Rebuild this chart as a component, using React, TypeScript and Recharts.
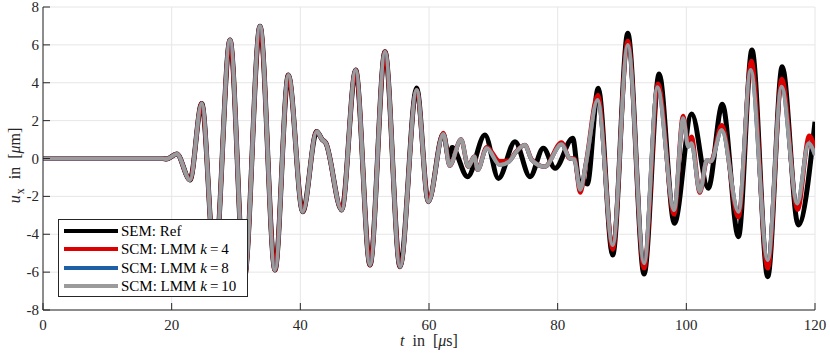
import React from 'react';
import { LineChart, Line, XAxis, YAxis, CartesianGrid, Legend, Label } from 'recharts';

// ---- tick labels ----
const xTicks = [0, 20, 40, 60, 80, 100, 120];
const yTicks = [-8, -6, -4, -2, 0, 2, 4, 6, 8];

// ---- series names ----
const seriesNames = ['SEM: Ref', 'SCM: LMM k=4', 'SCM: LMM k=8', 'SCM: LMM k=10'];

// ---- shared part of all series (t in µs, u_x in µm) ----
const sharedT = [0, 18.6, 19.2, 20.8, 22.85, 24.67, 26.7, 29.07, 31.3, 33.73, 36.06, 38.14, 40.37, 42.54, 43.4, 43.95, 46.43, 48.6, 50.83, 53.16, 55.5];
const sharedV = [0, 0, -0.03, 0.24, -1.13, 2.91, -5.6, 6.26, -6.3, 6.99, -5.89, 4.41, -2.81, 1.42, 1.0, 0.82, -2.72, 4.67, -5.62, 5.64, -5.71];

// ---- SEM: Ref tail ----
const refT = [58.08, 59.9, 62.2, 63.1, 63.6, 66.0, 68.7, 70.8, 73.37, 75.7, 77.77, 79.6, 82.34, 83.4, 84.0, 84.6, 86.3, 88.55, 90.9, 93.43, 95.77, 98.14, 100.83, 103.4, 105.6, 108.1, 110.2, 112.65, 114.9, 117.4, 120];
const refV = [3.72, -2.28, 1.3, 0.05, 0.58, -0.96, 1.24, -1.05, 0.89, -0.96, 0.54, -0.52, 1.07, -1.3, -1.15, -1.35, 3.71, -5.1, 6.61, -6.1, 4.46, -3.42, 2.35, -1.57, 2.86, -4.13, 5.73, -6.24, 4.85, -3.51, 1.94];

// ---- SCM: LMM k=4 tail ----
const k4T = [58.08, 59.9, 62.23, 63.2, 64.98, 66.1, 67.05, 67.57, 68.97, 71.0, 72.5, 73.4, 74.9, 75.96, 78.0, 80.6, 81.9, 82.6, 83.5, 84.4, 86.25, 88.55, 90.9, 93.43, 95.6, 98.1, 99.5, 100.2, 100.8, 102.1, 103.2, 103.8, 105.5, 108.1, 110.1, 112.65, 114.85, 117.3, 119.1, 120];
const k4V = [3.62, -2.28, 1.35, -0.38, 1.0, -0.43, 0.1, -0.6, 0.6, -0.15, -0.1, 0.3, 0.71, -0.05, -0.43, 0.85, 0.0, 0.0, -1.8, -0.25, 3.35, -4.8, 6.2, -5.8, 3.95, -2.95, 2.25, 0.9, 1.15, -1.8, -0.1, -0.15, 1.75, -3.1, 5.15, -5.8, 4.2, -2.7, 1.2, 0.55];

// ---- SCM: LMM k=8 tail (coincides with k=10 in the figure) ----
const k8T = [58.08, 59.9, 62.23, 63.2, 64.98, 66.1, 67.05, 67.57, 68.97, 71.0, 72.5, 73.4, 74.9, 75.96, 78.0, 80.6, 81.9, 82.6, 83.5, 84.4, 86.2, 88.55, 90.9, 93.43, 95.5, 98.1, 99.5, 100.3, 100.8, 102.1, 103.2, 103.8, 105.5, 108.1, 110.0, 112.65, 114.8, 117.25, 119.0, 120];
const k8V = [3.62, -2.28, 1.3, -0.38, 1.0, -0.43, 0.1, -0.6, 0.54, -0.34, -0.15, 0.28, 0.71, -0.08, -0.43, 0.75, 0.0, -0.05, -1.65, -0.25, 3.09, -4.57, 5.99, -5.53, 3.76, -2.72, 2.12, 0.62, 0.8, -1.75, -0.08, -0.15, 1.5, -2.81, 4.67, -5.36, 3.79, -2.37, 0.8, 0.18];

// ---- SCM: LMM k=10 tail ----
const k10T = [58.08, 59.9, 62.23, 63.2, 64.98, 66.1, 67.05, 67.57, 68.97, 71.0, 72.5, 73.4, 74.9, 75.96, 78.0, 80.6, 81.9, 82.6, 83.5, 84.4, 86.2, 88.55, 90.9, 93.43, 95.5, 98.1, 99.5, 100.3, 100.8, 102.1, 103.2, 103.8, 105.5, 108.1, 110.0, 112.65, 114.8, 117.25, 119.0, 120];
const k10V = [3.62, -2.28, 1.3, -0.38, 1.0, -0.43, 0.1, -0.6, 0.54, -0.34, -0.15, 0.28, 0.71, -0.08, -0.43, 0.75, 0.0, -0.05, -1.65, -0.25, 3.09, -4.57, 5.99, -5.53, 3.76, -2.72, 2.12, 0.62, 0.8, -1.75, -0.08, -0.15, 1.5, -2.81, 4.67, -5.36, 3.79, -2.37, 0.8, 0.18];

const build = (tailT: number[], tailV: number[]) => [
  ...sharedT.map((t, i) => ({ t, v: sharedV[i] })),
  ...tailT.map((t, i) => ({ t, v: tailV[i] })),
];

const refData = build(refT, refV);
const k4Data = build(k4T, k4V);
const k8Data = build(k8T, k8V);
const k10Data = build(k10T, k10V);

const AXIS = '#262626';
const FONT = "'Liberation Serif', 'Times New Roman', serif";
const TICK = 7;

const BottomTick = (props: any) => {
  const { x, y, payload } = props;
  return (
    <g>
      <line x1={x} x2={x} y1={y} y2={y - TICK} stroke={AXIS} strokeWidth={1} />
      <text x={x} y={y + 20} textAnchor="middle" fill={AXIS} style={{ fontFamily: FONT, fontSize: 15 }}>
        {payload.value}
      </text>
    </g>
  );
};
const TopTick = (props: any) => {
  const { x, y } = props;
  return <line x1={x} x2={x} y1={y} y2={y + TICK} stroke={AXIS} strokeWidth={1} />;
};
const LeftTick = (props: any) => {
  const { x, y, payload } = props;
  return (
    <g>
      <line x1={x} x2={x + TICK} y1={y} y2={y} stroke={AXIS} strokeWidth={1} />
      <text x={x - 4} y={y + 5} textAnchor="end" fill={AXIS} style={{ fontFamily: FONT, fontSize: 15 }}>
        {payload.value}
      </text>
    </g>
  );
};
const RightTick = (props: any) => {
  const { x, y } = props;
  return <line x1={x} x2={x - TICK} y1={y} y2={y} stroke={AXIS} strokeWidth={1} />;
};

const YLabel = (props: any) => {
  const vb = props.viewBox || { x: 0, y: 7, width: 43, height: 303 };
  const cx = vb.x + 20;
  const cy = vb.y + vb.height / 2 + 7;
  return (
    <text x={cx} y={cy} transform={`rotate(-90, ${cx}, ${cy})`} textAnchor="middle" fill={AXIS} style={{ fontFamily: FONT, fontSize: 16 }}>
      <tspan fontStyle="italic">u</tspan>
      <tspan fontSize={12} dx={1} dy={4}>x</tspan>
      <tspan dx={9} dy={-4}>in</tspan>
      <tspan dx={8}>[</tspan>
      <tspan fontStyle="italic">μ</tspan>
      <tspan>m]</tspan>
    </text>
  );
};
const XLabel = (props: any) => {
  const vb = props.viewBox || { x: 43, y: 310, width: 772, height: 47 };
  const cx = vb.x + vb.width / 2;
  const cy = vb.y + 36;
  return (
    <text x={cx} y={cy} textAnchor="middle" fill={AXIS} style={{ fontFamily: FONT, fontSize: 16 }}>
      <tspan fontStyle="italic">t</tspan>
      <tspan dx={8}>in</tspan>
      <tspan dx={8}>[</tspan>
      <tspan fontStyle="italic">μ</tspan>
      <tspan>s]</tspan>
    </text>
  );
};

const renderName = (value: string) => {
  if (value.includes('k=')) {
    const [pre, num] = value.split('k=');
    return (
      <>
        {pre}
        <i>k</i>
        {'\u2009=\u2009'}
        {num}
      </>
    );
  }
  return value;
};

const LegendBox = (props: any) => {
  const payload = [...(props.payload || [])].sort(
    (a: any, b: any) => seriesNames.indexOf(a.value) - seriesNames.indexOf(b.value)
  );
  return (
    <div
      style={{
        width: 190,
        height: 78,
        boxSizing: 'border-box',
        border: `1px solid ${AXIS}`,
        background: '#fff',
        fontFamily: FONT,
        fontSize: 15,
        color: '#000',
        paddingTop: 2,
      }}
    >
      {payload.map((item: any) => (
        <div key={item.value} style={{ display: 'flex', alignItems: 'center', height: 18.3 }}>
          <div style={{ width: 54, height: 4, background: item.color, marginLeft: 5, marginRight: 3, flex: 'none' }} />
          <span style={{ whiteSpace: 'nowrap', lineHeight: '18px' }}>{renderName(item.value)}</span>
        </div>
      ))}
    </div>
  );
};

export default function App() {
  return (
    <div style={{ width: 830, height: 357, background: '#fff', fontFamily: FONT }}>
      <style>{'body{margin:0;background:#fff}'}</style>
      <LineChart width={830} height={357} margin={{ top: 7, right: 15, left: 0, bottom: 0 }}>
        <CartesianGrid stroke="#e6e6e6" strokeWidth={1} />
        <XAxis
          type="number"
          dataKey="t"
          domain={[0, 120]}
          ticks={xTicks}
          allowDataOverflow
          height={47}
          tickSize={0}
          tickMargin={0}
          tickLine={false}
          axisLine={{ stroke: AXIS }}
          tick={BottomTick}
          interval={0}
        >
          <Label content={XLabel} />
        </XAxis>
        <XAxis
          xAxisId="top"
          orientation="top"
          type="number"
          dataKey="t"
          domain={[0, 120]}
          ticks={xTicks}
          allowDataOverflow
          height={0}
          tickSize={0}
          tickMargin={0}
          tickLine={false}
          axisLine={{ stroke: AXIS }}
          tick={TopTick}
          interval={0}
        />
        <YAxis
          type="number"
          domain={[-8, 8]}
          ticks={yTicks}
          allowDataOverflow
          width={43}
          tickSize={0}
          tickMargin={0}
          tickLine={false}
          axisLine={{ stroke: AXIS }}
          tick={LeftTick}
          interval={0}
        >
          <Label content={YLabel} />
        </YAxis>
        <YAxis
          yAxisId="right"
          orientation="right"
          type="number"
          domain={[-8, 8]}
          ticks={yTicks}
          allowDataOverflow
          width={0}
          tickSize={0}
          tickMargin={0}
          tickLine={false}
          axisLine={{ stroke: AXIS }}
          tick={RightTick}
          interval={0}
        />
        <Line data={refData} dataKey="v" name={seriesNames[0]} type="monotone" stroke="#000000" strokeWidth={5} dot={false} isAnimationActive={false} />
        <Line data={k4Data} dataKey="v" name={seriesNames[1]} type="monotone" stroke="#dd0000" strokeWidth={4.5} dot={false} isAnimationActive={false} />
        <Line data={k8Data} dataKey="v" name={seriesNames[2]} type="monotone" stroke="#1f5fa6" strokeWidth={4} dot={false} isAnimationActive={false} />
        <Line data={k10Data} dataKey="v" name={seriesNames[3]} type="monotone" stroke="#9b9b9b" strokeWidth={4} dot={false} isAnimationActive={false} />
        <Legend
          layout="vertical"
          align="center"
          verticalAlign="middle"
          content={LegendBox}
          wrapperStyle={{ left: 58, top: 219, width: 190, height: 78 }}
        />
      </LineChart>
    </div>
  );
}
